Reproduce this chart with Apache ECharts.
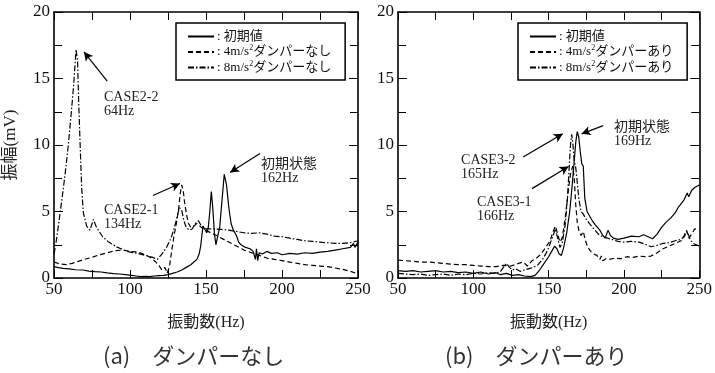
<!DOCTYPE html>
<html>
<head>
<meta charset="utf-8">
<script src="https://cdn.jsdelivr.net/npm/echarts@6/dist/echarts.min.js"></script>
<style>
  html, body { margin: 0; padding: 0; background: #fff; }
  #chart { width: 715px; height: 373px; }
</style>
</head>
<body>
<div id="chart"></div>
<script>
// ---- axis ticks ----
const freqTicks = [50, 100, 150, 200, 250];
const ampTicks = [0, 5, 10, 15, 20];

// ---- (a) without damper: [frequency Hz, amplitude mV] ----
const noDamperInitial = [
  [50,0.85],[53,0.78],[56,0.72],[60,0.68],[64,0.62],[69,0.6],[73,0.52],[77,0.48],[81,0.45],[85,0.38],
  [89,0.33],[93,0.3],[97,0.25],[101,0.2],[104,0.15],[107,0.1],[110,0.12],[113,0.1],[116,0.15],
  [119,0.18],[122,0.2],[125,0.25],[128,0.35],[131,0.45],[134,0.6],[137,0.8],[140,1.0],[142,1.2],
  [144,1.4],[145.5,1.8],[146.5,2.4],[147.3,3.2],[148,3.9],[149,3.7],[150.5,3.4],[151.5,3.8],
  [152.5,5.0],[153.5,6.5],[154.5,5.2],[155.5,3.4],[156.5,2.5],[157.5,2.6],[159,3.8],[160.5,5.8],
  [162,7.8],[163.5,7.0],[165,5.3],[166.5,4.1],[168,3.6],[170,3.2],[171.5,2.7],[173,2.5],[176,2.3],
  [179,2.2],[181,2.0],[182.5,1.4],[183.2,2.2],[184,1.3],[185,1.9],[187,1.8],[190,2.0],[193,1.85],
  [197,1.9],[200,1.75],[205,1.85],[210,1.8],[215,1.9],[220,1.85],[225,1.95],[230,2.0],[235,2.1],
  [240,2.2],[245,2.3],[247,2.6],[248,2.3],[250,2.7]
];
const noDamper4 = [
  [50,1.2],[54,1.05],[58,1.0],[62,1.1],[66,1.25],[70,1.4],[75,1.55],[80,1.75],[85,1.9],[90,2.05],
  [95,2.1],[100,2.0],[105,1.95],[110,1.75],[114,1.5],[117,1.2],[119,0.95],[121,0.6],[123,0.8],
  [124.5,0.35],[126,0.9],[127.5,2.1],[129,3.2],[130.5,4.1],[132,5.2],[133,6.3],[134,7.0],[135,6.6],
  [136,5.6],[137.5,4.6],[138.5,4.1],[140,3.8],[142,3.9],[144,4.1],[146,3.9],[148,3.7],[150,3.6],
  [153,3.4],[157,3.2],[160,3.0],[165,2.7],[170,2.4],[175,2.1],[180,1.9],[185,1.7],[190,1.5],
  [195,1.4],[200,1.3],[205,1.2],[210,1.1],[215,1.0],[220,0.95],[225,0.9],[230,0.85],[235,0.75],
  [240,0.65],[245,0.5],[250,0.3]
];
const noDamper8 = [
  [50,1.8],[51,2.4],[52.5,3.6],[54,4.9],[56,6.6],[57.5,8.0],[59.5,10.1],[61.5,12.6],[63,14.6],
  [64.5,17.2],[65.5,16.3],[66.3,13.0],[67.2,10.0],[68.2,6.8],[69.3,4.9],[71.5,3.9],[73.7,3.6],
  [75.9,4.4],[78,3.8],[82,3.1],[86,2.7],[91,2.35],[96,2.1],[100,1.95],[105,1.85],[110,1.7],
  [115,1.55],[118,1.4],[121,1.8],[124,2.3],[127,3.0],[129,3.7],[131,4.6],[132.5,5.3],[134,5.1],
  [135.5,4.3],[137,3.8],[139,3.6],[141,3.7],[143,4.1],[145,4.3],[147,3.9],[150,3.7],[155,3.7],
  [160,3.65],[165,3.6],[170,3.5],[175,3.4],[180,3.35],[185,3.4],[190,3.3],[195,3.15],[200,3.1],
  [205,3.0],[210,2.9],[215,2.8],[220,2.75],[225,2.7],[230,2.65],[235,2.6],[240,2.6],[245,2.65],
  [250,2.8]
];

// ---- (b) with damper ----
const damperInitial = [
  [50,0.55],[55,0.5],[60,0.55],[65,0.45],[70,0.5],[75,0.55],[80,0.45],[85,0.5],[90,0.4],[95,0.45],
  [100,0.35],[105,0.45],[110,0.3],[115,0.4],[118,0.25],[122,0.35],[126,0.2],[130,0.25],[134,0.15],
  [138,0.1],[141,0.2],[144,0.6],[147,1.1],[150,1.6],[152,2.0],[154,2.4],[155.5,2.2],[157,1.8],
  [158.5,1.7],[160,2.3],[162,3.4],[164,5.0],[165.5,6.8],[167,8.8],[168,10.2],[169,11.0],[170,10.6],
  [171,9.5],[172,8.6],[173,8.4],[174,6.0],[175.5,5.0],[177,4.7],[179,4.3],[181,4.0],[184,3.6],
  [186,3.2],[187.5,3.0],[189.5,3.6],[191,3.2],[193,3.0],[196,2.9],[200,3.0],[205,3.15],[210,3.1],
  [213,3.25],[216,3.1],[219,2.95],[222,3.3],[225,3.8],[228,4.2],[231,4.5],[234,4.9],[236,5.3],
  [238,5.6],[240,5.9],[242,6.4],[243,6.1],[245,6.6],[247,6.8],[250,7.0]
];
const damper4 = [
  [50,1.35],[55,1.3],[60,1.25],[65,1.2],[70,1.2],[75,1.15],[80,1.1],[85,1.05],[90,1.0],[95,1.0],
  [100,0.95],[105,0.9],[110,0.85],[115,0.85],[120,0.95],[125,0.9],[130,1.1],[133,1.2],[136,0.9],
  [139,1.3],[142,1.5],[145,1.8],[148,2.3],[151,2.8],[153,3.5],[154.5,3.9],[156,3.3],[157.5,2.7],
  [159,3.0],[161,4.5],[163,6.5],[164.5,7.8],[166,8.4],[167,7.5],[168,5.5],[169,4.2],[170,3.6],
  [171.5,3.2],[173,3.5],[174.5,2.8],[176,2.3],[178,2.0],[180,1.8],[182,1.7],[184,1.4],[185,1.65],
  [186,1.3],[188,1.45],[190,1.4],[194,1.5],[198,1.45],[202,1.6],[206,1.55],[210,1.65],[214,1.6],
  [218,1.65],[222,1.9],[226,2.2],[230,2.4],[234,2.6],[238,2.8],[240,3.2],[241.5,3.6],[243,3.0],
  [245,3.3],[247,3.7],[250,3.6]
];
const damper8 = [
  [50,0.35],[55,0.3],[60,0.25],[65,0.3],[70,0.2],[75,0.25],[80,0.3],[85,0.2],[90,0.3],[95,0.25],
  [100,0.35],[105,0.3],[110,0.4],[115,0.35],[118,0.5],[120,0.8],[122,1.1],[124,0.8],[126,0.6],
  [128,0.7],[131,0.5],[134,0.6],[137,0.7],[140,0.8],[143,1.0],[146,1.4],[149,2.0],[151,2.6],
  [153,3.2],[154.5,3.7],[156,3.0],[157.5,2.3],[159,2.6],[161,4.0],[162.5,6.0],[163.5,8.0],
  [164.5,10.0],[165.3,10.8],[166,10.2],[167,8.8],[168,8.3],[169,7.2],[170,6.0],[171.5,5.0],
  [173,4.8],[175,4.4],[177,4.1],[180,3.7],[183,3.3],[186,3.1],[189,3.0],[192,2.9],[196,2.75],
  [200,2.7],[205,2.75],[210,2.7],[214,2.55],[218,2.35],[222,2.45],[226,2.6],[230,2.65],[234,2.8],
  [238,2.9],[240,3.1],[242,3.5],[244,2.9],[246,2.6],[248,2.5],[250,2.4]
];

// ---- legend texts ----
const legendText = {
  a0: ': 初期値',
  a4: ': 4m/s{sup|2}ダンパーなし',
  a8: ': 8m/s{sup|2}ダンパーなし',
  b0: ': 初期値',
  b4: ': 4m/s{sup|2}ダンパーあり',
  b8: ': 8m/s{sup|2}ダンパーあり'
};

// ---- annotations: [panel, text, textAnchor [f, v], arrowFrom [f, v], arrowTo [f, v]] ----
const notes = [
  [0, 'CASE2-2\n64Hz', [82.9, 14.1], [85.0, 14.8], [69.7, 17.0]],
  [0, 'CASE2-1\n134Hz', [82.9, 5.6], [115.1, 6.2], [132.9, 7.1]],
  [0, '初期状態\n162Hz', [186.2, 9.1], [185.5, 9.36], [165.8, 7.94]],
  [1, '初期状態\n169Hz', [193.4, 11.85], [186.2, 11.46], [171.9, 10.84]],
  [1, 'CASE3-2\n165Hz', [91.9, 9.36], [133.1, 9.09], [159.4, 10.84]],
  [1, 'CASE3-1\n166Hz', [102.4, 6.2], [139.0, 6.72], [163.2, 8.39]]
];

const subTitles = ['(a)\u3000ダンパーなし', '(b)\u3000ダンパーあり'];

const SERIF = '"Liberation Serif", "Noto Sans CJK JP", serif';
const SANS_JP = '"Noto Sans CJK JP", "Noto Sans", sans-serif';

const chart = echarts.init(document.getElementById('chart'), null, { renderer: 'canvas' });

const grids = [
  { left: 54, top: 12, width: 304, height: 266 },
  { left: 398, top: 12, width: 304, height: 266 }
];

function tickText(list) {
  return v => list.includes(v) ? '{n|' + v + '}' : '';
}
const tickRich = { n: { fontSize: 17, fontFamily: SERIF, color: '#111' } };

function xAxisDef(gridIndex, pos, withLabels, nameText) {
  return {
    type: 'value', gridIndex, position: pos, min: 50, max: 250, interval: 50,
    axisLine: { show: true, onZero: false, lineStyle: { color: '#000', width: 1.6 } },
    axisTick: { show: true, inside: true, length: 8, lineStyle: { color: '#000', width: 1 } },
    minorTick: { show: true, splitNumber: 2, length: 8, lineStyle: { color: '#000', width: 1 } },
    splitLine: { show: false },
    axisLabel: {
      show: withLabels, margin: 3, color: '#111', fontSize: 17, fontFamily: SERIF,
      formatter: tickText(freqTicks), rich: tickRich
    },
    name: nameText || '', nameLocation: 'middle', nameGap: 37,
    nameTextStyle: { fontSize: 16, fontFamily: SERIF, color: '#222' }
  };
}
function yAxisDef(gridIndex, pos, withLabels, nameText) {
  return {
    type: 'value', gridIndex, position: pos, min: 0, max: 20, interval: 5,
    axisLine: { show: true, onZero: false, lineStyle: { color: '#000', width: 1.6 } },
    axisTick: { show: true, inside: true, length: 9, lineStyle: { color: '#000', width: 1 } },
    minorTick: { show: true, splitNumber: 2, length: 8, lineStyle: { color: '#000', width: 1 } },
    splitLine: { show: false },
    axisLabel: {
      show: withLabels, margin: 4, color: '#111', fontSize: 17, fontFamily: SERIF,
      formatter: tickText(ampTicks), rich: tickRich
    },
    name: nameText || '', nameLocation: 'middle', nameGap: 35, nameRotate: 90,
    nameTextStyle: { fontSize: 17, fontFamily: SERIF, color: '#222' }
  };
}

const dashSolid = 'solid';
const dashDashed = [5, 3];
const dashDot = [6, 2, 1.5, 2];

function lineSeries(name, data, xi, yi, dash) {
  return {
    name, type: 'line', data, xAxisIndex: xi, yAxisIndex: yi,
    symbol: 'none', showSymbol: false, smooth: false, animation: false,
    emphasis: { disabled: true }, silent: true,
    lineStyle: { color: '#000', width: 1.2, type: dash },
    itemStyle: { color: '#000' }
  };
}

function arrowsFor(panel) {
  return {
    silent: true, animation: false,
    symbol: ['none', 'arrow'], symbolSize: [7, 9],
    lineStyle: { type: 'solid', color: '#000', width: 1.2 },
    label: { show: false },
    emphasis: { disabled: true },
    data: notes.filter(n => n[0] === panel).map(n => [{ coord: n[3] }, { coord: n[4] }])
  };
}

function legendDef(left, names) {
  return {
    data: names, orient: 'vertical', left, top: 23,
    padding: [7, 14, 6, 11], itemGap: 1, itemWidth: 26, itemHeight: 13,
    borderColor: '#000', borderWidth: 1.5, selectedMode: false,
    itemStyle: { opacity: 0 },
    formatter: n => legendText[n],
    textStyle: {
      fontSize: 13, fontFamily: SERIF, color: '#111', padding: [0, 0, 0, -2],
      rich: { sup: { fontSize: 8, fontFamily: SERIF, color: '#111', padding: [0, 0, 8, 0] } }
    }
  };
}

const s0 = lineSeries('a0', noDamperInitial, 0, 0, dashSolid);
s0.markLine = arrowsFor(0);
const s3 = lineSeries('b0', damperInitial, 2, 2, dashSolid);
s3.markLine = arrowsFor(1);

chart.setOption({
  backgroundColor: '#fff',
  animation: false,
  textStyle: { fontFamily: SERIF },
  grid: grids,
  xAxis: [
    xAxisDef(0, 'bottom', true, '振動数(Hz)'),
    xAxisDef(0, 'top', false),
    xAxisDef(1, 'bottom', true, '振動数(Hz)'),
    xAxisDef(1, 'top', false)
  ],
  yAxis: [
    yAxisDef(0, 'left', true, '振幅(mV)'),
    yAxisDef(0, 'right', false),
    yAxisDef(1, 'left', true),
    yAxisDef(1, 'right', false)
  ],
  legend: [legendDef(176, ['a0', 'a4', 'a8']), legendDef(518, ['b0', 'b4', 'b8'])],
  title: [
    { text: subTitles[0], left: 103, top: 345, padding: 0,
      textStyle: { fontSize: 22, fontWeight: 'normal', fontFamily: SANS_JP, color: '#333' } },
    { text: subTitles[1], left: 445, top: 345, padding: 0,
      textStyle: { fontSize: 22, fontWeight: 'normal', fontFamily: SANS_JP, color: '#333' } }
  ],
  series: [
    s0,
    lineSeries('a4', noDamper4, 0, 0, dashDashed),
    lineSeries('a8', noDamper8, 0, 0, dashDot),
    s3,
    lineSeries('b4', damper4, 2, 2, dashDashed),
    lineSeries('b8', damper8, 2, 2, dashDot)
  ]
});

// annotation texts placed in data coordinates
const textEls = notes.map(n => {
  const p = chart.convertToPixel({ xAxisIndex: n[0] * 2, yAxisIndex: n[0] * 2 }, n[2]);
  return {
    type: 'text', x: p[0], y: p[1], silent: true,
    style: {
      text: n[1], fontSize: 14, lineHeight: 14, fontFamily: SERIF, fill: '#222',
      align: 'left', verticalAlign: 'top'
    }
  };
});
chart.setOption({ graphic: textEls });
</script>
</body>
</html>
